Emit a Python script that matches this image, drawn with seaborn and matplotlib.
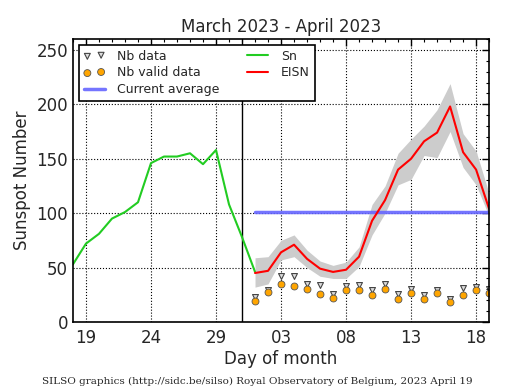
#Sunspot number, March 2023 - April 2023
import pandas as pd
import matplotlib
matplotlib.use('Agg')
import matplotlib.pyplot as plt
import seaborn as sns
from matplotlib.ticker import MultipleLocator, FixedLocator

# day numbers counted from March 1 (Apr 1 = 32)
sn_days = [18, 19, 20, 21, 22, 23, 24, 25, 26, 27, 28, 29, 30, 31, 32]
sn_values = [53, 72, 81, 95, 101, 110, 146, 152, 152, 155, 145, 158, 108, 78, 46]

eisn_days = [32, 33, 34, 35, 36, 37, 38, 39, 40, 41, 42, 43, 44, 45, 46, 47, 48, 49, 50]
eisn_values = [45, 47, 64, 71, 58, 49, 46, 48, 60, 93, 112, 140, 150, 166, 174, 198, 156, 140, 104]
eisn_upper = [59, 60, 75, 80, 66, 56, 52, 55, 69, 108, 125, 155, 168, 180, 195, 219, 173, 157, 118]
eisn_lower = [32, 35, 57, 60, 50, 42, 40, 40, 51, 80, 100, 126, 131, 153, 151, 175, 142, 126, 97]

nb_data = [23, 29, 42, 42, 35, 34, 26, 33, 34, 29, 35, 26, 30, 25, 29, 21, 31, 32, 30]
nb_valid = [19, 28, 35, 33, 30, 26, 22, 29, 29, 25, 30, 21, 27, 21, 27, 18, 25, 29, 27]

current_average = 101
month_break = 31

tick_days = [19, 24, 29, 34, 39, 44, 49]
tick_labels = ['19', '24', '29', '03', '08', '13', '18']

sn_df = pd.DataFrame({'day': sn_days, 'Sn': sn_values})
eisn_df = pd.DataFrame({'day': eisn_days, 'EISN': eisn_values, 'upper': eisn_upper,
                        'lower': eisn_lower, 'nb': nb_data, 'valid': nb_valid})

sns.set_style('white')
plt.rcParams['xtick.direction'] = 'in'
plt.rcParams['ytick.direction'] = 'in'
plt.rcParams['font.family'] = ['DejaVu Sans']

fig = plt.figure(figsize=(5.15, 3.9), dpi=100)
ax = fig.add_axes([0.1417, 0.1744, 0.808, 0.7256])

ax.fill_between(eisn_df['day'], eisn_df['lower'], eisn_df['upper'], color='#cccccc', lw=0)
ax.axvline(month_break, color='black', lw=1)

sns.scatterplot(data=eisn_df, x='day', y='nb', ax=ax, marker='v', s=18,
                color='#dddddd', edgecolor='#444444', linewidth=0.8, label='Nb data')
sns.scatterplot(data=eisn_df, x='day', y='valid', ax=ax, marker='o', s=25,
                color='#ffa500', edgecolor='#555555', linewidth=0.6, label='Nb valid data')
ax.plot([eisn_days[0], eisn_days[-1]], [current_average, current_average],
        color='#6666ff', lw=2.5, alpha=0.9, label='Current average')
sns.lineplot(data=sn_df, x='day', y='Sn', ax=ax, color='#22cc22', lw=1.5, label='Sn')
sns.lineplot(data=eisn_df, x='day', y='EISN', ax=ax, color='red', lw=1.5, label='EISN')

ax.set_xlim(18, 50)
ax.set_ylim(0, 260)
ax.xaxis.set_major_locator(FixedLocator(tick_days))
ax.set_xticklabels(tick_labels)
ax.xaxis.set_minor_locator(MultipleLocator(1))
ax.yaxis.set_major_locator(MultipleLocator(50))
ax.yaxis.set_minor_locator(MultipleLocator(10))
ax.tick_params(which='both', top=True, right=True, labelsize=12, color='black')
ax.tick_params(which='major', length=5, width=1)
ax.tick_params(which='minor', length=2.5, width=0.8)
ax.tick_params(axis='x', which='major', pad=5)
ax.grid(True, which='major', linestyle=':', color='black', lw=0.8)
for s in ax.spines.values():
    s.set_color('black')
    s.set_linewidth(1.2)

ax.set_title('March 2023 - April 2023', fontsize=12, pad=5)
ax.set_xlabel('Day of month', fontsize=12, labelpad=2)
ax.set_ylabel('Sunspot Number', fontsize=12)

leg = ax.legend(loc='upper left', ncol=2, fontsize=9, scatterpoints=2, frameon=True,
                fancybox=False, edgecolor='black', framealpha=1, borderaxespad=0.45,
                columnspacing=2.2, handlelength=1.7, handletextpad=1.0, labelspacing=0.3)
leg.get_frame().set_linewidth(1.2)

fig.text(0.5, 0.015, 'SILSO graphics (http://sidc.be/silso) Royal Observatory of Belgium, 2023 April 19',
         ha='center', fontsize=7.5, family='DejaVu Serif')

fig.savefig('out.png', dpi=100)
